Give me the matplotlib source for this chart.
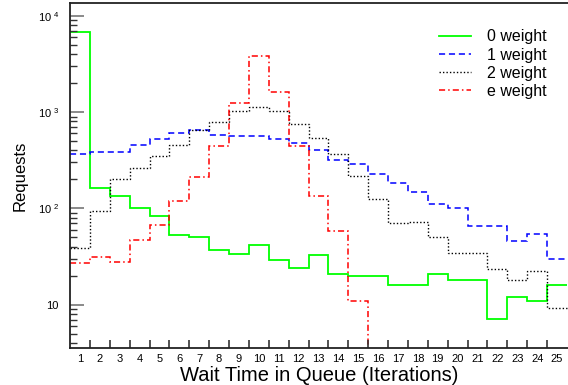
import matplotlib.pyplot as plt
import numpy as np
from matplotlib.ticker import FixedLocator, NullFormatter

plt.rcParams['font.family'] = ['Liberation Sans', 'DejaVu Sans']

# wait time bins 1..25
bins = list(range(1, 26))

w0 = [6800, 162, 135, 102, 84, 53, 51, 37, 34, 42, 29, 24, 33, 21, 20,
      19.7, 15.9, 15.9, 20.8, 18.2, 18.2, 7.05, 11.9, 11.0, 15.9]
w1 = [368, 389, 389, 457, 524, 603, 645, 581, 563, 566, 524, 483, 405, 321, 292,
      230, 185, 149, 111, 100, 66, 66, 46, 54, 30]
w2 = [38.8, 95, 203, 266, 351, 457, 645, 793, 1030, 1143, 1030, 750, 545, 366, 218,
      126, 70, 73, 50, 34.7, 34.7, 23.3, 18.1, 22.4, 9.2]
we = [27, 31, 28, 46.7, 67.5, 119, 214, 446, 1241, 3786, 1615, 446, 135, 58.7, 11.0,
      0, 0, 0, 0, 0, 0, 0, 0, 0, 0]

labels = ['0 weight', '1 weight', '2 weight', 'e weight']

fig = plt.figure(figsize=(5.68, 3.85), dpi=100)
ax = fig.add_axes([0.1232, 0.0961, 0.8768, 0.8961])

edges = np.arange(0.5, len(bins) + 1.0, 1.0)
ax.set_yscale('log', nonpositive='clip')

ax.stairs(w0, edges, baseline=None, color='#00ff00', lw=1.3, label=labels[0])
ax.stairs(w1, edges, baseline=None, color='#0000ff', lw=1.1, ls=(0, (4, 2.5)), label=labels[1])
ax.stairs(w2, edges, baseline=None, color='black', lw=1.0, ls=(0, (1, 1.5)), label=labels[2])
ax.stairs(we, edges, baseline=None, color='red', lw=1.1, ls=(0, (4, 2, 1, 2)), label=labels[3])

ax.set_xlim(0.5, 25.55)
ax.set_ylim(3.55, 13600)

# ticks at bin edges, labels at bin centres
ax.xaxis.set_major_locator(FixedLocator(edges[1:-1]))
ax.xaxis.set_major_formatter(NullFormatter())
ax.xaxis.set_minor_locator(FixedLocator(bins))
ax.set_xticklabels([str(b) for b in bins], minor=True)
ax.tick_params(axis='x', which='major', direction='in', length=6, width=1.2, color='#333333')
ax.tick_params(axis='x', which='minor', length=0, pad=4, labelsize=8)

ax.set_yticks([10, 100, 1000, 10000])
ax.set_yticklabels(['10', r'$\mathregular{10^{\ 2}}$', r'$\mathregular{10^{\ 3}}$',
                    r'$\mathregular{10^{\ 4}}$'])
ax.tick_params(axis='y', which='major', direction='in', length=10, width=1.2,
               color='#777777', labelsize=8, pad=8)
ax.tick_params(axis='y', which='minor', direction='in', length=5, width=1.0, color='#333333')

for s in ['left', 'top', 'bottom']:
    ax.spines[s].set_linewidth(1.3)
    ax.spines[s].set_color('#222222')
ax.spines['right'].set_visible(False)

ax.set_xlabel('Wait Time in Queue (Iterations)', fontsize=14.5, labelpad=1.5)
ax.set_ylabel('Requests', fontsize=12, labelpad=7)

ax.legend(loc='upper right', bbox_to_anchor=(0.985, 0.965), frameon=False, fontsize=11.5,
          handlelength=1.95, handletextpad=1.0, labelspacing=0.2)

fig.savefig('out.png', dpi=100)
